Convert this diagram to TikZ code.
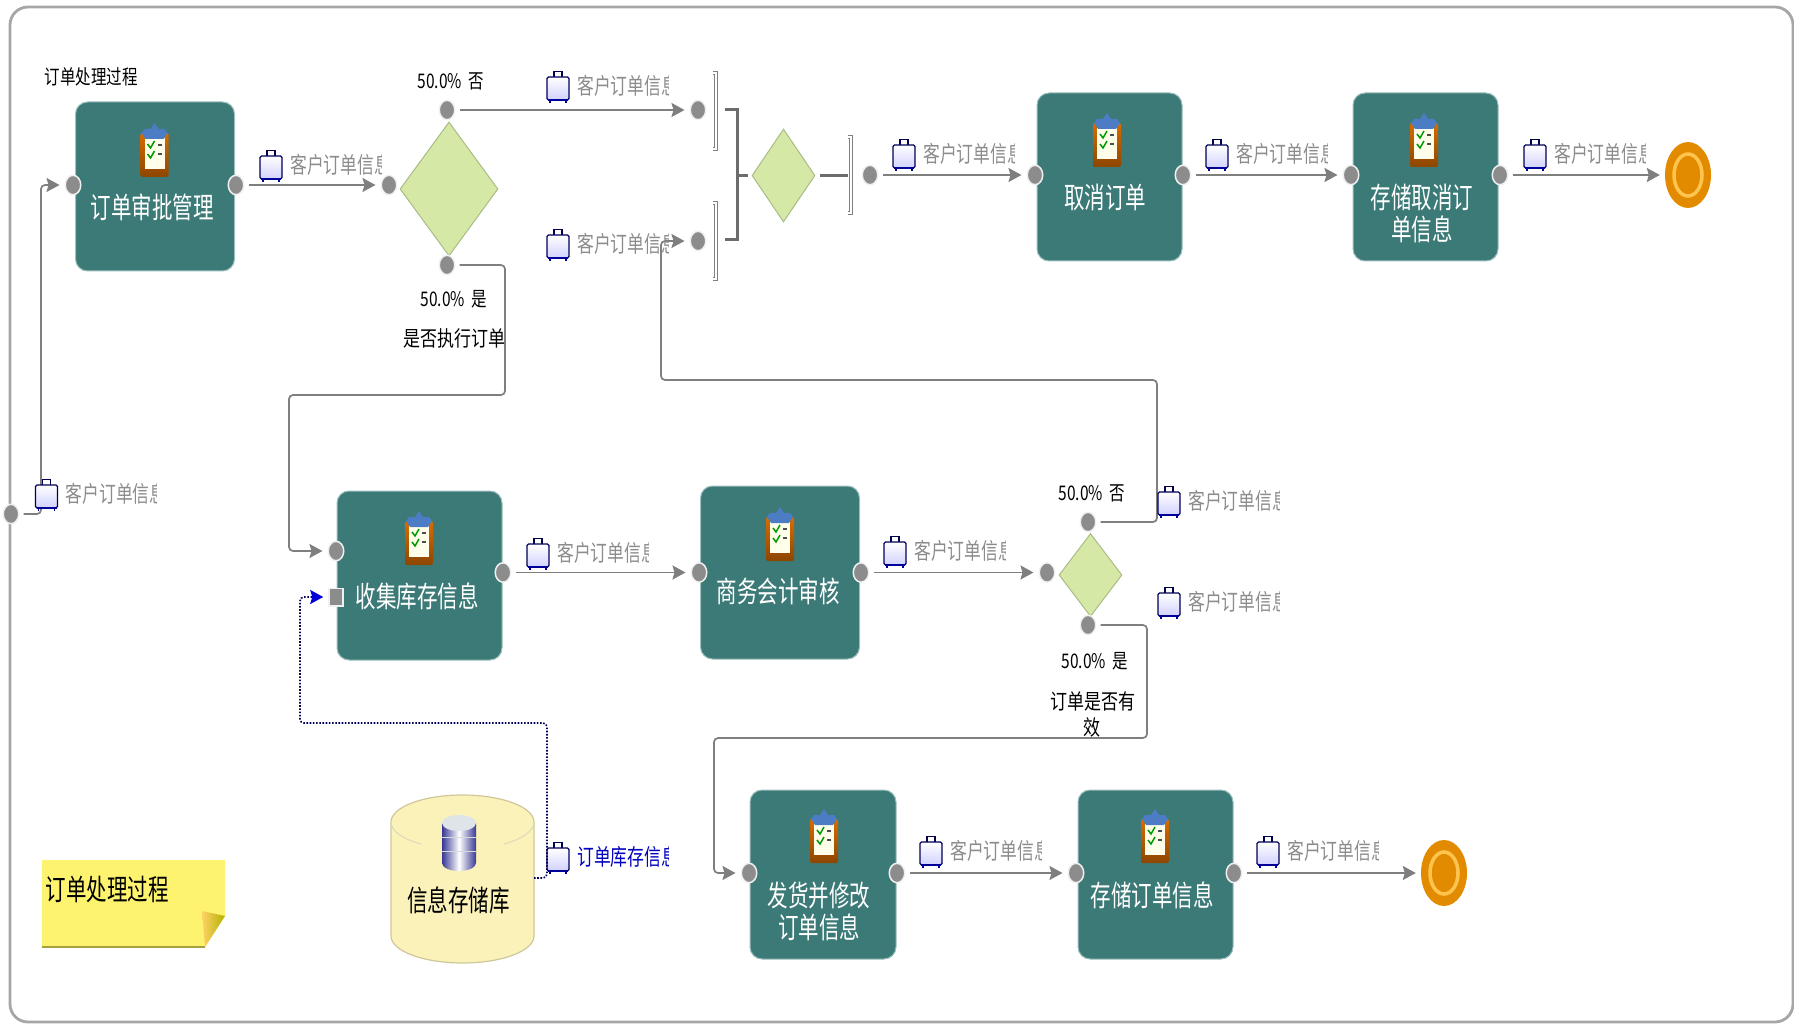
\documentclass[tikz,border=0pt]{standalone}
\usepackage{fontspec}
\setmainfont{Noto Sans CJK SC}
\usetikzlibrary{arrows.meta,shapes.geometric}
\definecolor{taskteal}{HTML}{3C7A78}
\definecolor{taskedge}{HTML}{9DBFBD}
\definecolor{gatefill}{HTML}{D5E8A6}
\definecolor{gateedge}{HTML}{A9BC88}
\definecolor{flowgray}{HTML}{7F7F7F}
\definecolor{labelgray}{HTML}{8C8C8C}
\definecolor{storefill}{HTML}{FBF2B9}
\definecolor{storeedge}{HTML}{CFC79A}
\definecolor{noteyellow}{HTML}{FDF36E}
\definecolor{ballorange}{HTML}{E38B00}
\definecolor{ballring}{HTML}{FFC44D}
\definecolor{clipblue}{HTML}{4C7CC4}
\tikzset{
  >={Stealth[length=13pt,width=14pt,inset=2pt]},
  taskbox/.style={draw=taskedge, fill=taskteal, line width=1pt, rounded corners=12pt, inner sep=0pt},
  tasktext/.style={text=white, font=\fontsize{20.5}{20.5}\selectfont, yscale=1.42, transform shape, inner sep=0pt},
  blacktext/.style={text=black, font=\fontsize{15.5}{15.5}\selectfont, yscale=1.3, transform shape, inner sep=0pt},
  asktext/.style={text=black, font=\fontsize{17}{17}\selectfont, yscale=1.25, transform shape, inner sep=0pt},
  bigtext/.style={text=black, font=\fontsize{20.5}{20.5}\selectfont, yscale=1.42, transform shape, inner sep=0pt},
  flaglabel/.style={font=\fontsize{16.8}{16.8}\selectfont, yscale=1.35, transform shape, inner sep=0pt, anchor=west},
  port/.style={circle, draw=white!88!gray, line width=1.5pt, fill=gray!90, minimum size=15.5pt, inner sep=0pt, yscale=1.25, transform shape},
  gate/.style={diamond, draw=gateedge, fill=gatefill, line width=1pt, inner sep=0pt},
  flow/.style={->, draw=flowgray, line width=1.7pt, rounded corners=4pt, shorten >=5pt, shorten <=4pt},
  datalink/.style={-{Stealth[length=13pt,width=14pt,inset=2pt,color=blue!85!black]}, draw=blue!35!black, dash pattern=on 1.6pt off 1.6pt, line width=1.6pt, rounded corners=4pt, shorten >=5pt},
  gatebar/.style={draw=flowgray, line width=1.2pt, double=white, double distance=1.2pt},
  joinbar/.style={draw=flowgray!85!black, line width=3pt},
  endball/.style={ellipse, fill=ballorange, minimum width=46pt, minimum height=66pt, inner sep=0pt},
  clipboard/.pic={
    \shade[top color=orange!85!black, bottom color=orange!55!black, rounded corners=2pt] (-14,-17) rectangle (14,27);
    \fill[yellow!8] (-10,-12) rectangle (10,19);
    \fill[clipblue] (-13,-17) -- (-10,-21) -- (-4,-21) -- (0,-27) -- (4,-21) -- (10,-21) -- (13,-17) -- (9,-11) -- (-9,-11) -- cycle;
    \draw[green!60!black, line width=1.5pt] (-7,-6) -- (-4,-2) -- (0,-9);
    \draw[green!60!black, line width=1.5pt] (-7,4) -- (-4,8) -- (0,1);
    \draw[black!70, line width=1.3pt] (3,-5) -- (7,-5) (3,4) -- (7,4);
  },
  suitcase/.pic={
    \draw[black!70!blue, line width=1.2pt] (-4,-10) -- (-4,-15.5) -- (4,-15.5) -- (4,-10);
    \shade[top color=white, middle color=white, bottom color=blue!18, draw=blue!35!black, line width=1.1pt, rounded corners=1.5pt] (-11,-10) rectangle (11,13);
    \draw[blue!60!black, line width=1.5pt] (-8,13) -- (-8,16) (8,13) -- (8,16) (-10,13) -- (10,13);
  },
  dbicon/.pic={
    \shade[left color=gray!55!blue!80!black, right color=gray!55!blue!80!black, middle color=white] (-17,-20) -- (-17,20) arc[x radius=17, y radius=8, start angle=180, end angle=0] -- (17,-20) -- cycle;
    \fill[cyan!20!gray!25] (0,-20) ellipse (17 and 8);
    \draw[white!70!gray, line width=1pt] (-17,-6) -- (17,-6) (-17,8) -- (17,8);
  }
}
\begin{document}
\begin{tikzpicture}[x=1pt, y=-1pt]
  \useasboundingbox (0,0) rectangle (1794,1024);
  \draw[gray!70, line width=2.8pt, rounded corners=18pt] (10,7) rectangle (1793,1022);

  \node[blacktext] (title) at (91,77) {订单处理过程};

  \node[taskbox, minimum width=159pt, minimum height=169pt] (approve) at (155,186.5) {};
  \node[tasktext] (approvetext) at (152,207) {订单审批管理};
  \pic at (154.5,150) {clipboard};
  \node[taskbox, minimum width=145pt, minimum height=168pt] (cancel) at (1109.5,177) {};
  \node[tasktext] (canceltext) at (1105,197) {取消订单};
  \pic at (1107,140) {clipboard};
  \node[taskbox, minimum width=145pt, minimum height=168pt] (savecancel) at (1425.5,177) {};
  \node[tasktext, align=center] (savecanceltext) at (1422,213) {存储取消订\\[2pt]单信息};
  \pic at (1424,140) {clipboard};
  \node[taskbox, minimum width=165pt, minimum height=169pt] (collect) at (419.5,575.5) {};
  \node[tasktext] (collecttext) at (417,596) {收集库存信息};
  \pic at (419,538) {clipboard};
  \node[taskbox, minimum width=159pt, minimum height=173pt] (audit) at (780,572.5) {};
  \node[tasktext] (audittext) at (778,591) {商务会计审核};
  \pic at (780,534) {clipboard};
  \node[taskbox, minimum width=146pt, minimum height=169pt] (ship) at (823,874.5) {};
  \node[tasktext, align=center] (shiptext) at (819,911) {发货并修改\\[2pt]订单信息};
  \pic at (824,836) {clipboard};
  \node[taskbox, minimum width=155pt, minimum height=169pt] (saveorder) at (1155.5,874.5) {};
  \node[tasktext] (saveordertext) at (1152,895) {存储订单信息};
  \pic at (1155,836) {clipboard};

  \node[gate, minimum width=98pt, minimum height=134pt] (gone) at (449,189) {};
  \node[gate, minimum width=63pt, minimum height=93pt] (gtwo) at (783.5,175.5) {};
  \node[gate, minimum width=63pt, minimum height=83pt] (gthree) at (1090.5,575) {};

  \node[port] (start) at (11,514) {};
  \node[port] (approvein) at (73,185) {};
  \node[port] (approveout) at (236,185) {};
  \node[port] (gonein) at (389,185) {};
  \node[port] (goneno) at (447,110) {};
  \node[port] (goneyes) at (447,265) {};
  \node[port] (jointop) at (698,110) {};
  \node[port] (joinlow) at (698,241) {};
  \node[port] (gtwoout) at (870,175) {};
  \node[port] (cancelin) at (1035,175) {};
  \node[port] (cancelout) at (1183,175) {};
  \node[port] (savecancelin) at (1351,175) {};
  \node[port] (savecancelout) at (1500,175) {};
  \node[port] (collectin) at (336,551) {};
  \node[port, rectangle, minimum size=14pt] (collectdata) at (336,597) {};
  \node[port] (collectout) at (503,572.5) {};
  \node[port] (auditin) at (699,572.5) {};
  \node[port] (auditout) at (861,572.5) {};
  \node[port] (gthreein) at (1047,572.5) {};
  \node[port] (gthreeno) at (1088,522) {};
  \node[port] (gthreeyes) at (1088,625) {};
  \node[port] (shipin) at (749,873) {};
  \node[port] (shipout) at (897,873) {};
  \node[port] (saveorderin) at (1076,873) {};
  \node[port] (saveorderout) at (1234,873) {};

  \node[endball] (endone) at (1688,175) {};
  \draw[ballring, line width=3.5pt] (endone.center) ellipse (14 and 21);
  \node[endball] (endtwo) at (1444,873) {};
  \draw[ballring, line width=3.5pt] (endtwo.center) ellipse (14 and 21);

  \draw[flow] (start) -- (41,514) -- (41,185) -- (approvein);
  \draw[flow] (approveout) -- (gonein);
  \draw[flow] (goneno) -- (jointop);
  \draw[flow] (goneyes) -- (505,265) -- (505,395) -- (289,395) -- (289,551) -- (collectin);
  \draw[flow] (gtwoout) -- (cancelin);
  \draw[flow] (cancelout) -- (savecancelin);
  \draw[flow] (savecancelout) -- (endone);
  \draw[flow] (collectout) -- (auditin);
  \draw[flow] (auditout) -- (gthreein);
  \draw[flow] (gthreeno) -- (1157,522) -- (1157,380) -- (661,380) -- (661,241) -- (joinlow);
  \draw[flow] (gthreeyes) -- (1147,625) -- (1147,738) -- (714,738) -- (714,873) -- (shipin);
  \draw[flow] (shipout) -- (saveorderin);
  \draw[flow] (saveorderout) -- (endtwo);

  \coordinate (bartop) at (716,73);
  \coordinate (barlow) at (716,203);
  \coordinate (barright) at (851,137);
  \draw[gatebar] (bartop) ++(-3,0) -- (bartop) -- ++(0,76) -- ++(-3,0);
  \draw[gatebar] (barlow) ++(-3,0) -- (barlow) -- ++(0,76) -- ++(-3,0);
  \draw[gatebar] (barright) ++(-3,0) -- (barright) -- ++(0,76) -- ++(-3,0);
  \draw[joinbar] (725,110) -- (737,110) -- (737,240) -- (725,240);
  \draw[joinbar, shorten >=4pt] (737,175.5) -- (gtwo.west);
  \draw[joinbar, shorten <=4pt] (gtwo.east) -- (848,175.5);

  \node[blacktext] (nogone) at (451,81) {50.0\%\ \ 否};
  \node[blacktext] (yesgone) at (454,299) {50.0\%\ \ 是};
  \node[asktext] (asksrun) at (454,338) {是否执行订单};
  \node[blacktext] (nogthree) at (1092,493) {50.0\%\ \ 否};
  \node[blacktext] (yesgthree) at (1095,661) {50.0\%\ \ 是};
  \node[asktext] (asksvalid) at (1093,701) {订单是否有};
  \node[asktext] (asksvalidend) at (1092,727) {效};

  \foreach \i/\x/\y in {1/46.5/495, 2/271/166, 3/558/87, 4/558/245, 5/904/155, 6/1217/155, 7/1535/155, 8/538/554, 9/895/552, 10/1169/502, 11/1169/603, 12/931/852, 13/1268/852} {
    \pic at (\x,\y) {suitcase};
    \begin{scope}
      \clip (\x+18,\y-20) rectangle (\x+110,\y+18);
      \node[flaglabel, text=labelgray] (flag\i) at (\x+19,\y-1) {客户订单信息};
    \end{scope}
  }
  \pic at (558,858) {suitcase};
  \begin{scope}
    \clip (576,838) rectangle (668,876);
    \node[flaglabel, text=blue!75!black] (flagstore) at (577,857) {订单库存信息};
  \end{scope}

  \draw[draw=storeedge, fill=storefill, line width=1.2pt] (391,822) arc[x radius=71.5, y radius=27, start angle=180, end angle=360] -- (534,936) arc[x radius=71.5, y radius=27, start angle=0, end angle=180] -- cycle;
  \draw[draw=storeedge!70, line width=1pt] (391,822) arc[x radius=71.5, y radius=27, start angle=180, end angle=125];
  \draw[draw=storeedge!70, line width=1pt] (534,822) arc[x radius=71.5, y radius=27, start angle=0, end angle=55];
  \pic at (459,843) {dbicon};
  \node[bigtext] (store) at (458.5,900) {信息存储库};
  \coordinate (storeout) at (534,878);
  \draw[datalink] (storeout) -- (547,878) -- (547,723) -- (300,723) -- (300,597) -- (collectdata);

  \fill[noteyellow] (42,860) -- (225,860) -- (225,916) -- (205,947) -- (42,947) -- cycle;
  \draw[yellow!60!black, line width=1.2pt] (42,947) -- (205,947);
  \shade[left color=yellow!40!orange!60, right color=yellow!70!black] (225,916) -- (202,911) -- (205,947) -- cycle;
  \node[bigtext] (note) at (107,889) {订单处理过程};
\end{tikzpicture}
\end{document}
